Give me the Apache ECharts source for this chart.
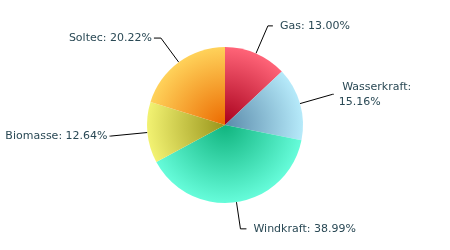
<!DOCTYPE html>
<html><head><meta charset="utf-8">
<script src="https://cdn.jsdelivr.net/npm/echarts@6/dist/echarts.min.js"></script>
<style>html,body{margin:0;padding:0;background:#fff}#c{width:450px;height:250px}</style>
</head><body><div id="c"></div>
<script>
const categories = ['Gas', 'Wasserkraft', 'Windkraft', 'Biomasse', 'Soltec'];
const values = [13.00, 15.16, 38.99, 12.64, 20.22];
const innerColors = ['#a8001c', '#5a8aaa', '#10b47e', '#98941a', '#ec6a00'];
const outerColors = ['#ff6478', '#b6eafa', '#66fcda', '#f2f272', '#ffd25a'];
const lineLen = [30, 34, 27, 37, 30];
const lineLen2 = [5, 1, 6, 1, 7];
const labelGap = [7, 5, 7, 2, 2];

const cx = 225, cy = 125, R = 78;
const data = categories.map((name, i) => ({
  name: name,
  value: values[i],
  itemStyle: {
    color: {
      type: 'radial', x: cx, y: cy, r: R, global: true,
      colorStops: [{offset: 0, color: innerColors[i]}, {offset: 1, color: outerColors[i]}]
    }
  },
  labelLine: {length: lineLen[i], length2: lineLen2[i]},
  label: {distanceToLabelLine: labelGap[i]}
}));

const chart = echarts.init(document.getElementById('c'), null, {renderer: 'canvas'});
chart.setOption({
  animation: false,
  series: [{
    type: 'pie',
    center: [cx, cy],
    radius: R,
    startAngle: 90,
    clockwise: true,
    avoidLabelOverlap: false,
    data: data,
    label: {
      show: true,
      position: 'outside',
      fontFamily: 'DejaVu Sans',
      fontSize: 11,
      color: '#2a4955',
      lineHeight: 15,
      formatter: function (p) {
        const t = p.name + ': ' + p.value.toFixed(2) + '%';
        return p.name === 'Wasserkraft' ? ' ' + p.name + ':\n' + p.value.toFixed(2) + '%' : t;
      }
    },
    labelLine: {show: true, lineStyle: {color: '#000', width: 1}},
    emphasis: {scale: false}
  }]
});
</script></body></html>
